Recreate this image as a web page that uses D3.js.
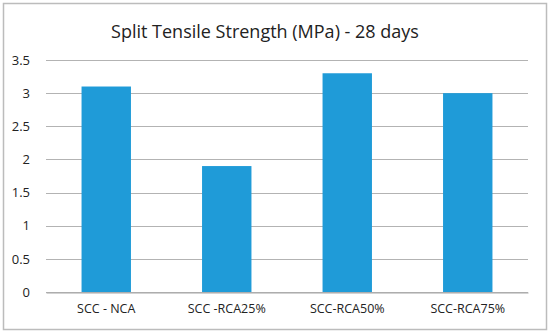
<!DOCTYPE html>
<html>
<head>
<meta charset="utf-8">
<script src="https://cdn.jsdelivr.net/npm/d3@7"></script>
<style>
  body { margin: 0; background: #fff; }
  text { font-family: "Open Sans", "Noto Sans", sans-serif; fill: #222; }
</style>
</head>
<body>
<div id="chart"></div>
<script>
const categories = ["SCC - NCA", "SCC -RCA25%", "SCC-RCA50%", "SCC-RCA75%"];
const strength = [3.1, 1.9, 3.3, 3.0];
const yTicks = [0, 0.5, 1, 1.5, 2, 2.5, 3, 3.5];

const width = 550;
const height = 335;
const margin = { top: 60, right: 22, bottom: 43, left: 46 };

const svg = d3.select("#chart").append("svg")
    .attr("width", width)
    .attr("height", height);

// outer frame
svg.append("rect")
    .attr("x", 3.5).attr("y", 3.5)
    .attr("width", 543).attr("height", 326)
    .attr("fill", "#fff")
    .attr("stroke", "#bcbcbc")
    .attr("stroke-width", 1.5);

svg.append("text")
    .attr("x", 265)
    .attr("y", 38)
    .attr("text-anchor", "middle")
    .style("font-size", "18px")
    .text("Split Tensile Strength (MPa) - 28 days");

const x = d3.scaleBand()
    .domain(categories)
    .range([margin.left, width - margin.right])
    .padding(0);

const y = d3.scaleLinear()
    .domain([0, 3.5])
    .range([height - margin.bottom, margin.top]);

// gridlines
svg.append("g")
    .selectAll("line")
    .data(yTicks)
    .enter()
    .append("line")
    .attr("x1", margin.left)
    .attr("x2", width - margin.right)
    .attr("y1", d => Math.round(y(d)) + 0.5)
    .attr("y2", d => Math.round(y(d)) + 0.5)
    .attr("stroke", "#b3b3b3")
    .attr("stroke-width", 1);

const barW = x.bandwidth() * 0.41;

svg.append("g")
    .selectAll("rect")
    .data(strength)
    .enter()
    .append("rect")
    .attr("x", (d, i) => x(categories[i]) + (x.bandwidth() - barW) / 2)
    .attr("y", d => y(d))
    .attr("width", barW)
    .attr("height", d => y(0) - y(d))
    .attr("fill", "#1f9bd8");

// y axis labels
const yAxis = d3.axisLeft(y)
    .tickValues(yTicks)
    .tickSize(0)
    .tickPadding(16)
    .tickFormat(d3.format("~g"));

svg.append("g")
    .attr("transform", `translate(${margin.left},0)`)
    .call(yAxis)
    .call(g => g.select(".domain").remove())
    .call(g => g.selectAll("text")
        .style("font-size", "13px")
        .style("font-family", "'Open Sans', 'Noto Sans', sans-serif")
        .attr("fill", "#222"));

// x axis
const xAxis = d3.axisBottom(x)
    .tickSize(0)
    .tickPadding(12);

svg.append("g")
    .attr("transform", `translate(0,${Math.round(y(0)) + 0.5})`)
    .call(xAxis)
    .call(g => g.select(".domain").attr("stroke", "#a6a6a6"))
    .call(g => g.selectAll("text")
        .style("font-size", "12.5px")
        .style("font-family", "'Open Sans', 'Noto Sans', sans-serif")
        .attr("fill", "#222"));
</script>
</body>
</html>
